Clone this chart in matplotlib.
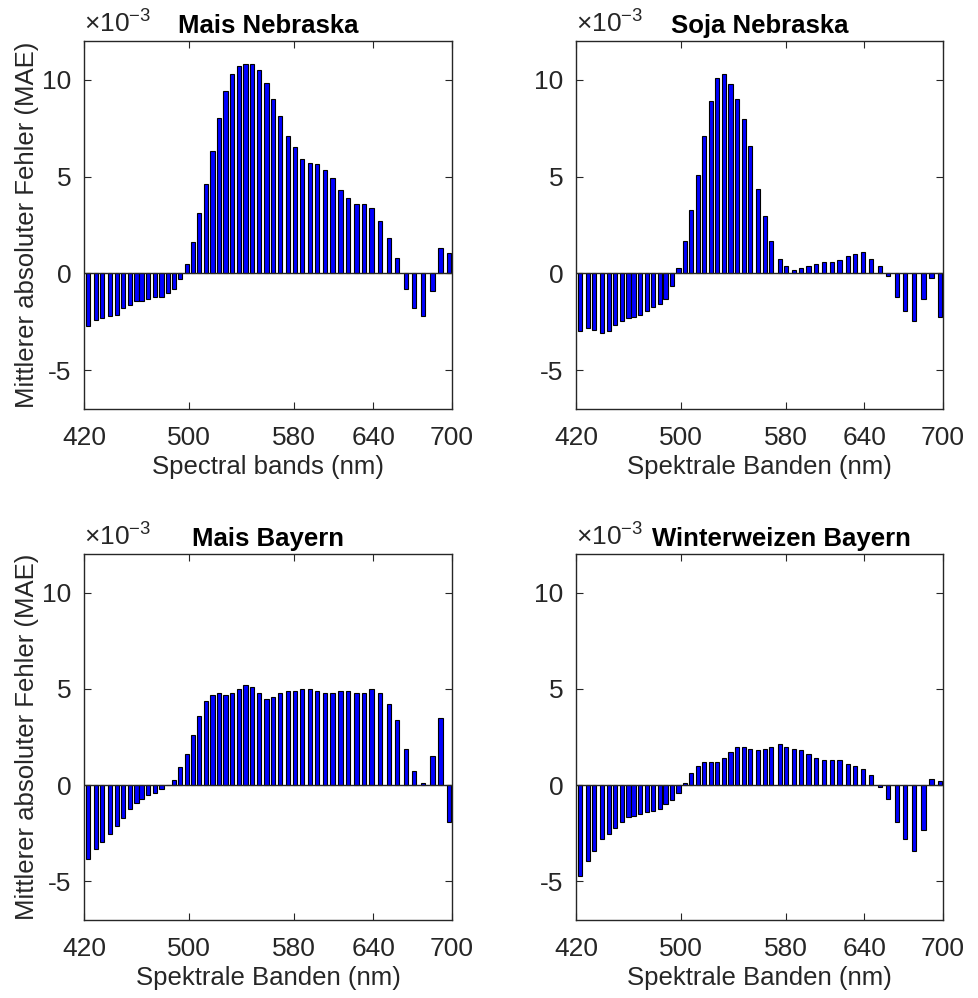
import numpy as np
import matplotlib
matplotlib.use("Agg")
import matplotlib.pyplot as plt

plt.rcParams['font.family'] = ['Liberation Sans', 'DejaVu Sans']
plt.rcParams['mathtext.fontset'] = 'custom'
plt.rcParams['mathtext.rm'] = 'Liberation Sans'
plt.rcParams['axes.unicode_minus'] = False

# band centres (nm)
wavelengths = [423.3, 428.9, 433.9, 439.8, 445.1, 449.9, 455.0, 460.0, 463.8, 468.9,
               474.0, 479.0, 484.1, 488.2, 493.0, 498.1, 503.1, 507.7, 512.8, 517.8,
               522.9, 527.7, 532.8, 537.8, 542.9, 548.0, 553.0, 558.9, 563.9, 569.0,
               575.3, 580.4, 586.0, 591.8, 597.4, 603.2, 609.1, 615.1, 621.0, 627.3,
               633.1, 638.7, 645.0, 651.9, 658.2, 664.8, 670.9, 678.0, 685.1, 691.2,
               697.7]

# MAE values (x 1e-3)
mais_nebraska = [-2.71, -2.40, -2.32, -2.20, -2.13, -1.80, -1.63, -1.41, -1.41, -1.30,
                 -1.20, -1.20, -0.99, -0.82, -0.31, 0.51, 1.63, 3.10, 4.60, 6.33,
                 8.03, 9.42, 10.31, 10.70, 10.81, 10.81, 10.51, 9.81, 9.01, 8.11,
                 7.10, 6.52, 5.92, 5.71, 5.64, 5.32, 4.92, 4.31, 3.91, 3.60,
                 3.60, 3.40, 2.71, 1.82, 0.81, -0.82, -1.80, -2.20, -0.89, 1.30,
                 1.03]
soja_nebraska = [-2.95, -2.81, -2.92, -3.06, -2.95, -2.65, -2.44, -2.30, -2.23, -2.16,
                 -1.96, -1.75, -1.58, -1.34, -0.67, 0.27, 1.68, 3.26, 5.09, 7.08,
                 8.90, 10.07, 10.29, 9.78, 8.99, 7.99, 6.60, 4.38, 2.99, 1.68,
                 0.77, 0.38, 0.19, 0.29, 0.38, 0.48, 0.58, 0.58, 0.69, 0.88,
                 0.98, 1.10, 0.77, 0.38, -0.15, -1.24, -1.94, -2.44, -1.34, -0.26,
                 -2.23]
mais_bayern = [-3.82, -3.30, -2.93, -2.52, -2.11, -1.70, -1.22, -0.91, -0.70, -0.51,
               -0.39, -0.19, 0.02, 0.29, 0.92, 1.61, 2.62, 3.61, 4.38, 4.67,
               4.78, 4.69, 4.78, 5.00, 5.19, 5.10, 4.78, 4.49, 4.59, 4.78,
               4.88, 4.88, 5.00, 5.00, 4.88, 4.78, 4.78, 4.88, 4.88, 4.78,
               4.78, 5.00, 4.78, 4.20, 3.39, 1.90, 0.72, 0.10, 1.49, 3.51,
               -1.90]
winterweizen_bayern = [-4.71, -3.92, -3.42, -2.79, -2.52, -2.21, -1.90, -1.68, -1.58, -1.49,
                       -1.39, -1.32, -1.22, -0.99, -0.79, -0.41, 0.12, 0.62, 1.01, 1.22,
                       1.22, 1.22, 1.40, 1.71, 2.00, 2.00, 1.90, 1.82, 1.90, 2.00,
                       2.11, 2.00, 1.90, 1.82, 1.61, 1.40, 1.32, 1.32, 1.32, 1.11,
                       1.01, 0.82, 0.51, -0.12, -0.70, -1.90, -2.79, -3.42, -2.31, 0.31,
                       0.21]

titles = ["Mais Nebraska", "Soja Nebraska", "Mais Bayern", "Winterweizen Bayern"]
xlabels = ["Spectral bands (nm)", "Spektrale Banden (nm)",
           "Spektrale Banden (nm)", "Spektrale Banden (nm)"]
series = [mais_nebraska, soja_nebraska, mais_bayern, winterweizen_bayern]
x_ticks = [420, 500, 580, 640, 700]
y_ticks = [-5, 0, 5, 10]

fig = plt.figure(figsize=(9.79, 9.98), dpi=100)
positions = [[0.0858, 0.5902, 0.3759, 0.3687],
             [0.5884, 0.5902, 0.3749, 0.3687],
             [0.0858, 0.0782, 0.3759, 0.3667],
             [0.5884, 0.0782, 0.3749, 0.3667]]

axis_grey = '#262626'
for i, pos in enumerate(positions):
    ax = fig.add_axes(pos)
    ax.bar(wavelengths, series[i], width=3.2, color='#0000FF',
           edgecolor='black', linewidth=0.8, zorder=2)
    ax.axhline(0, color=axis_grey, linewidth=1.0, zorder=3)
    ax.set_xlim(420, 700)
    ax.set_ylim(-7, 12)
    ax.set_xticks(x_ticks)
    ax.set_yticks(y_ticks)
    ax.tick_params(axis='both', direction='in', top=True, right=True, length=5,
                   labelsize=19, colors=axis_grey)
    ax.tick_params(axis='x', pad=12)
    ax.tick_params(axis='y', pad=9)
    for sp in ax.spines.values():
        sp.set_color(axis_grey)
        sp.set_linewidth(1.0)
    ax.set_xlabel(xlabels[i], fontsize=18.5, color=axis_grey, labelpad=4)
    if i % 2 == 0:
        ax.set_ylabel("Mittlerer absoluter Fehler (MAE)", fontsize=18.5,
                      color=axis_grey, labelpad=2)
    tx = 0.56 if i == 3 else 0.5
    ax.set_title(titles[i], fontsize=18.5, fontweight='bold', color='black',
                 x=tx, pad=6)
    ax.text(0.0, 1.01, r'$\times\mathregular{10^{-3}}$', transform=ax.transAxes,
            fontsize=19, color=axis_grey, ha='left', va='bottom')

fig.savefig("out.png", dpi=100)
